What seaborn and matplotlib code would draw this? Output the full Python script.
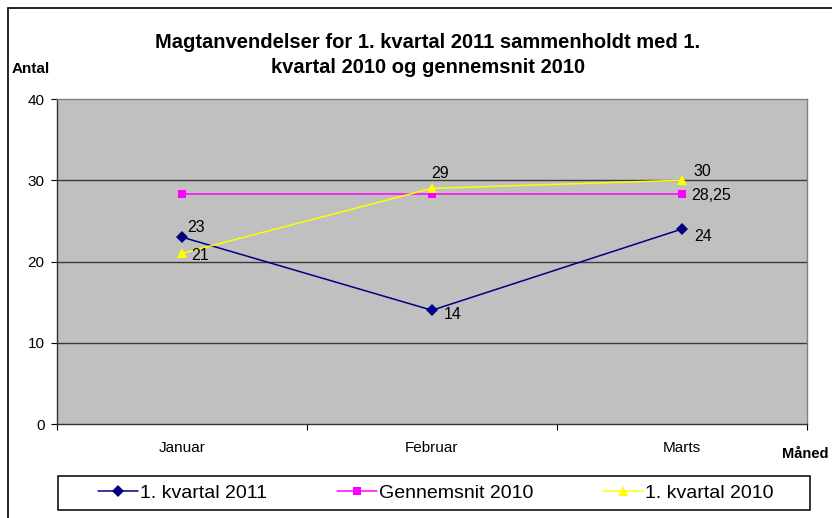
"""Magtanvendelser 1. kvartal 2011 vs 1. kvartal 2010 and gennemsnit 2010."""
import matplotlib
matplotlib.use("Agg")
import matplotlib.pyplot as plt
from matplotlib.patches import Rectangle
import pandas as pd
import seaborn as sns

months = ["Januar", "Februar", "Marts"]
kvartal_2011 = [23, 14, 24]
gennemsnit_2010 = [28.25, 28.25, 28.25]
kvartal_2010 = [21, 29, 30]

series_names = ["1. kvartal 2011", "Gennemsnit 2010", "1. kvartal 2010"]
series_values = [kvartal_2011, gennemsnit_2010, kvartal_2010]

frame = pd.DataFrame(
    [(m, name, v) for name, vals in zip(series_names, series_values) for m, v in zip(months, vals)],
    columns=["Måned", "Serie", "Antal"],
)

sns.set_theme(style="white")
plt.rcParams["font.family"] = ["Liberation Sans", "DejaVu Sans"]
plt.rcParams.update({"text.color": "black", "xtick.color": "black", "ytick.color": "black",
                     "axes.labelcolor": "black"})

W, H = 832, 518
fig = plt.figure(figsize=(W / 100, H / 100), dpi=100)
ax = fig.add_axes([57 / W, 1 - 424 / H, 750 / W, 325 / H])
ax.set_facecolor("#C0C0C0")

palette = {"1. kvartal 2011": "#000080", "Gennemsnit 2010": "#FF00FF", "1. kvartal 2010": "#FFFF00"}
markers = {"1. kvartal 2011": "D", "Gennemsnit 2010": "s", "1. kvartal 2010": "^"}
msizes = {"1. kvartal 2011": 6, "Gennemsnit 2010": 6, "1. kvartal 2010": 7.5}
sns.lineplot(data=frame, x="Måned", y="Antal", hue="Serie", style="Serie",
             palette=palette, markers=markers, dashes=False, markersize=0,
             linewidth=1.1, ax=ax, legend=False, sort=False)
# per-series marker sizes
for line, name in zip(ax.lines, series_names):
    line.set_markersize(msizes[name])
    line.set_markeredgewidth(0)

ax.set_xlim(-0.5, 2.5)
ax.set_ylim(0, 40)
ax.set_yticks([0, 10, 20, 30, 40])
ax.set_xticks(range(len(months)))
ax.set_xticklabels(months)
ax.set_xticks([-0.5, 0.5, 1.5, 2.5], minor=True)
ax.tick_params(axis="x", which="major", length=0, pad=12, labelsize=11)
ax.tick_params(axis="x", which="minor", length=4, direction="out", color="black", width=0.8, bottom=True)
ax.tick_params(axis="y", length=4, direction="out", color="black", width=0.8, left=True, labelsize=11, pad=5)
for y in [10, 20, 30]:
    ax.axhline(y, color="#3a3a3a", lw=1, zorder=0.5)
ax.set_xlabel("")
ax.set_ylabel("")
for side in ["left", "bottom"]:
    ax.spines[side].set_color("#333333")
    ax.spines[side].set_linewidth(1)
for side in ["top", "right"]:
    ax.spines[side].set_color("#808080")
    ax.spines[side].set_linewidth(1)

# data labels (offsets in points from the marker)
label_offsets = {
    "1. kvartal 2011": [(3.5, 7.2), (8.5, -3), (8.5, -5.5)],
    "1. kvartal 2010": [(7, -1.5), (-0.5, 11), (8, 6.5)],
    "Gennemsnit 2010": [None, None, (6.5, -1)],
}
for name, vals in zip(series_names, series_values):
    for i, v in enumerate(vals):
        off = label_offsets[name][i]
        if off is None:
            continue
        text = f"{v:g}".replace(".", ",")
        ax.annotate(text, (i, v), xytext=off, textcoords="offset points",
                    fontsize=11.5, va="center", ha="left")

fig.text(428 / W, 1 - 55 / H, "Magtanvendelser for 1. kvartal 2011 sammenholdt med 1.\nkvartal 2010 og gennemsnit 2010",
         ha="center", va="center", fontsize=14.5, fontweight="bold", linespacing=1.35)
fig.text(12 / W, 1 - 69 / H, "Antal", ha="left", va="center", fontsize=11, fontweight="bold")
fig.text(782 / W, 1 - 454 / H, "Måned", ha="left", va="center", fontsize=10.5, fontweight="bold")

handles = [plt.Line2D([], [], color=palette[n], marker=markers[n], markersize=msizes[n],
                      markeredgewidth=0, lw=1.1) for n in series_names]
leg = fig.legend(handles, series_names, loc="center", ncol=3, bbox_to_anchor=(436 / W, 1 - 493 / H),
                 frameon=False, fontsize=14, handlelength=2.05, handletextpad=0.1,
                 columnspacing=3.6, borderpad=0, borderaxespad=0)

fig.patches.append(Rectangle((58 / W, 1 - 510 / H), 752 / W, 34 / H, transform=fig.transFigure,
                             fill=False, edgecolor="black", lw=1.1))
fig.patches.append(Rectangle((8 / W, -0.1), 1.2, 1.1 - 8 / H, transform=fig.transFigure,
                             fill=False, edgecolor="black", lw=1.2))

fig.savefig("out.png", dpi=100, facecolor="white")
